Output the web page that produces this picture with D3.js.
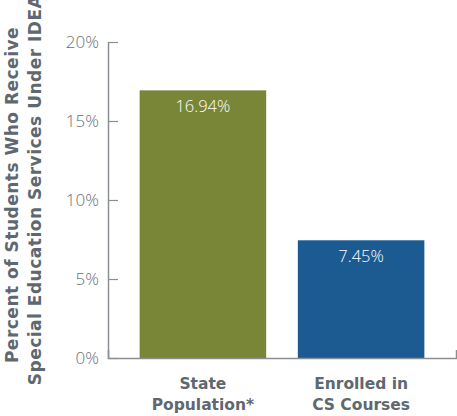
<!DOCTYPE html>
<html>
<head>
<meta charset="utf-8">
<script src="https://cdn.jsdelivr.net/npm/d3@7"></script>
<style>
  body { margin: 0; background: #fff; }
  svg { display: block; }
  .tick-label { font-family: "Open Sans", sans-serif; font-weight: 300; font-size: 17px; fill: #6b7075; }
  .cat-label { font-family: "DejaVu Sans", sans-serif; font-weight: 700; font-size: 15.5px; fill: #5e6870; }
  .axis-title { font-family: "DejaVu Sans", sans-serif; font-weight: 700; font-size: 17px; letter-spacing: 0.5px; fill: #5e6870; }
  .val-label { font-family: "Open Sans", sans-serif; font-weight: 300; font-size: 16.5px; fill: #fff; }
</style>
</head>
<body>
<div id="chart"></div>
<script>
// data
var categories = [["State", "Population*"], ["Enrolled in", "CS Courses"]];
var values = [16.94, 7.45];
var barColors = ["#798638", "#1c5b92"];
var yTicks = [0, 5, 10, 15, 20];
var titleLines = ["Percent of Students Who Receive", "Special Education Services Under IDEA"];

var width = 457, height = 416;
var x0 = 108, x1 = 456, yTop = 42, yBottom = 358;

var svg = d3.select("#chart").append("svg")
    .attr("width", width)
    .attr("height", height);

var x = d3.scaleBand()
    .domain(d3.range(values.length))
    .range([x0, x1])
    .paddingInner(0.2)
    .paddingOuter(0.2);

var y = d3.scaleLinear()
    .domain([0, 20])
    .range([yBottom, yTop]);

// bars
svg.selectAll(".bar")
    .data(values)
    .enter()
    .append("rect")
    .attr("class", "bar")
    .attr("x", function(d, i) { return x(i); })
    .attr("y", function(d) { return y(d); })
    .attr("width", x.bandwidth())
    .attr("height", function(d) { return y(0) - y(d); })
    .attr("fill", function(d, i) { return barColors[i]; });

// value labels inside the bars
svg.selectAll(".val-label")
    .data(values)
    .enter()
    .append("text")
    .attr("class", "val-label")
    .attr("text-anchor", "middle")
    .attr("x", function(d, i) { return x(i) + x.bandwidth() / 2; })
    .attr("y", function(d) { return y(d) + 22; })
    .text(function(d) { return d.toFixed(2) + "%"; });

// y axis, ticks point into the plot
var yAxis = svg.append("g")
    .attr("transform", "translate(" + x0 + ",0)")
    .call(d3.axisLeft(y).tickValues(yTicks).tickSize(-10).tickSizeOuter(0).tickPadding(9)
        .tickFormat(function(d) { return d + "%"; }));
yAxis.select(".domain").attr("stroke", "#8a8f94").attr("stroke-width", 1.5);
yAxis.selectAll(".tick line").attr("stroke", "#8a8f94").attr("stroke-width", 1.2);
yAxis.selectAll(".tick text").attr("class", "tick-label").attr("font-size", null).attr("font-family", null);

// x axis baseline with small upturned end
var xAxis = svg.append("g")
    .attr("transform", "translate(0," + yBottom + ")")
    .call(d3.axisBottom(x).tickSize(0).tickSizeOuter(-8).tickFormat(""));
xAxis.select(".domain").attr("stroke", "#8a8f94").attr("stroke-width", 1.5);

// category labels
categories.forEach(function(lines, i) {
  var t = svg.append("text")
      .attr("class", "cat-label")
      .attr("text-anchor", "middle")
      .attr("x", x(i) + x.bandwidth() / 2)
      .attr("y", 389);
  lines.forEach(function(l, j) {
    t.append("tspan")
        .attr("x", x(i) + x.bandwidth() / 2)
        .attr("dy", j === 0 ? 0 : 21)
        .text(l);
  });
});

// y axis title
titleLines.forEach(function(l, j) {
  svg.append("text")
      .attr("class", "axis-title")
      .attr("text-anchor", "middle")
      .attr("transform", "translate(" + (18 + j * 23) + "," + (195 - j * 5) + ") rotate(-90)")
      .text(l);
});
</script>
</body>
</html>
